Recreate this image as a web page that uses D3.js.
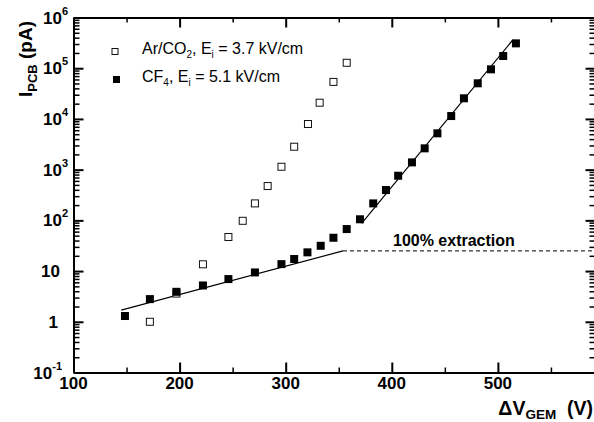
<!DOCTYPE html>
<html>
<head>
<meta charset="utf-8">
<script src="https://cdn.jsdelivr.net/npm/d3@7"></script>
<style>
  body { margin: 0; background: #fff; }
  svg { display: block; font-family: "Liberation Sans", Arial, Helvetica, sans-serif; }
  .axis path, .axis line { stroke: #000; stroke-width: 2; }
  .axis.minor line { stroke-width: 1.5; }
</style>
</head>
<body>
<svg id="chart" width="594" height="422"></svg>
<script>
// Ar/CO2, Ei = 3.7 kV/cm (open squares)
var arV = [172, 197, 222, 246, 259.5, 271, 283, 296, 308, 321, 332, 345, 357.5];
var arI = [1.0, 3.6, 13.6, 47, 98, 216, 475, 1140, 2830, 7940, 20900, 53700, 128000];

// CF4, Ei = 5.1 kV/cm (filled squares)
var cfV = [148.5, 172, 197, 222, 246, 271, 296, 308, 320.5, 333, 345, 357.5, 370, 382.5,
           394.5, 406, 419, 431, 443, 456, 468, 481, 493.5, 505, 517];
var cfI = [1.3, 2.8, 3.9, 5.2, 6.95, 9.4, 13.7, 17.3, 23.4, 31.5, 45.4, 67.3, 105, 216,
           396, 758, 1390, 2630, 5200, 11400, 25500, 50400, 95000, 174000, 309000];

// fit lines (end points)
var lowFit = [[145, 1.7], [354, 25]];
var highFit = [[371.6, 87], [514, 360000]];
var extraction = [[354, 25], [592, 25]];

var xMajor = [100, 200, 300, 400, 500];
var xMinor = [150, 250, 350, 450, 550];
var yExp = [-1, 0, 1, 2, 3, 4, 5, 6];

var svg = d3.select('#chart');
var plotL = 73.5, plotR = 595.5, plotT = 17.5, plotB = 372.5;

var x = d3.scaleLinear().domain([100, 592]).range([plotL, plotR]);
var y = d3.scaleLog().domain([0.1, 1e6]).range([plotB, plotT]);

var yMajor = yExp.map(function(e) { return Math.pow(10, e); });
var yMinor = [];
for (var e = -1; e < 6; e++) {
  for (var m = 2; m <= 9; m++) yMinor.push(m * Math.pow(10, e));
}

function axisG(gen, tx, ty, cls) {
  var g = svg.append('g').attr('class', 'axis ' + (cls || ''))
    .attr('transform', 'translate(' + tx + ',' + ty + ')')
    .call(gen);
  g.selectAll('text').remove();
  if (cls) g.select('.domain').remove();
  return g;
}

// bottom / top
axisG(d3.axisBottom(x).tickValues(xMajor).tickSizeInner(-10).tickSizeOuter(0), 0, plotB);
axisG(d3.axisBottom(x).tickValues(xMinor).tickSizeInner(-5).tickSizeOuter(0), 0, plotB, 'minor');
axisG(d3.axisTop(x).tickValues(xMajor).tickSizeInner(-10).tickSizeOuter(0), 0, plotT);
axisG(d3.axisTop(x).tickValues(xMinor).tickSizeInner(-5).tickSizeOuter(0), 0, plotT, 'minor');
// left / right
axisG(d3.axisLeft(y).tickValues(yMajor).tickSizeInner(-10).tickSizeOuter(0), plotL, 0);
axisG(d3.axisLeft(y).tickValues(yMinor).tickSizeInner(-6).tickSizeOuter(0), plotL, 0, 'minor');
axisG(d3.axisRight(y).tickValues(yMajor).tickSizeInner(-10).tickSizeOuter(0), plotR, 0);
axisG(d3.axisRight(y).tickValues(yMinor).tickSizeInner(-6).tickSizeOuter(0), plotR, 0, 'minor');

// x tick labels
svg.append('g').selectAll('text').data(xMajor).enter().append('text')
  .attr('x', function(d) { return x(d); })
  .attr('y', 389)
  .attr('text-anchor', 'middle')
  .attr('font-size', 17).attr('font-weight', 'bold')
  .text(function(d) { return d; });

// y tick labels
var yl = svg.append('g').selectAll('text').data(yExp).enter().append('text')
  .attr('x', function(e) { return e === 0 ? 58 : (e === 1 ? 60 : (e === -1 ? 62 : 68)); })
  .attr('y', function(e) { return y(Math.pow(10, e)) + 6; })
  .attr('text-anchor', 'end')
  .attr('font-size', 17).attr('font-weight', 'bold');
yl.each(function(e) {
  var t = d3.select(this);
  if (e === 0) { t.text('1'); return; }
  if (e === 1) { t.text('10'); return; }
  t.append('tspan').text('10');
  t.append('tspan').attr('dy', -9).attr('font-size', 11).text(e);
});

// axis titles
var yt = svg.append('text')
  .attr('transform', 'translate(32,21) rotate(-90)')
  .attr('text-anchor', 'end')
  .attr('font-size', 19).attr('font-weight', 'bold');
yt.append('tspan').text('I');
yt.append('tspan').attr('dy', 5).attr('font-size', 13).text('PCB');
yt.append('tspan').attr('dy', -5).text(' (pA)');

var xt = svg.append('text')
  .attr('x', 593).attr('y', 415)
  .attr('text-anchor', 'end')
  .attr('font-size', 19.5).attr('font-weight', 'bold');
xt.append('tspan').text('\u0394V');
xt.append('tspan').attr('dy', 4).attr('font-size', 13.5).text('GEM');
xt.append('tspan').attr('dy', -4).text('\u00a0\u00a0(V)');

// fits
var line = d3.line().x(function(d) { return x(d[0]); }).y(function(d) { return y(d[1]); });
svg.append('path').datum(lowFit).attr('d', line)
  .attr('fill', 'none').attr('stroke', '#000').attr('stroke-width', 1.2);
svg.append('path').datum(highFit).attr('d', line)
  .attr('fill', 'none').attr('stroke', '#000').attr('stroke-width', 1.2);
svg.append('path').datum(extraction).attr('d', line)
  .attr('fill', 'none').attr('stroke', '#000').attr('stroke-width', 1)
  .attr('stroke-dasharray', '4,3');

svg.append('text')
  .attr('x', 393).attr('y', 246)
  .attr('font-size', 16).attr('font-weight', 'bold')
  .text('100% extraction');

// markers
var openS = 7, fillS = 8;
svg.append('g').selectAll('rect').data(arV).enter().append('rect')
  .attr('x', function(d) { return x(d) - openS / 2; })
  .attr('y', function(d, i) { return y(arI[i]) - openS / 2; })
  .attr('width', openS).attr('height', openS)
  .attr('fill', '#fff').attr('stroke', '#111').attr('stroke-width', 1);

svg.append('g').selectAll('rect').data(cfV).enter().append('rect')
  .attr('x', function(d) { return x(d) - fillS / 2; })
  .attr('y', function(d, i) { return y(cfI[i]) - fillS / 2; })
  .attr('width', fillS).attr('height', fillS)
  .attr('fill', '#000');

// legend
var leg = svg.append('g').attr('font-size', 16);
leg.append('rect').attr('x', 112).attr('y', 48.5).attr('width', 6).attr('height', 6)
  .attr('fill', '#fff').attr('stroke', '#111').attr('stroke-width', 1);
leg.append('rect').attr('x', 113).attr('y', 76).attr('width', 7).attr('height', 7)
  .attr('fill', '#000');
var l1 = leg.append('text').attr('x', 142).attr('y', 53.5);
l1.append('tspan').text('Ar/CO');
l1.append('tspan').attr('dy', 4).attr('font-size', 10).text('2');
l1.append('tspan').attr('dy', -4).text(', E');
l1.append('tspan').attr('dy', 4).attr('font-size', 10).text('i');
l1.append('tspan').attr('dy', -4).text(' = 3.7 kV/cm');
var l2 = leg.append('text').attr('x', 142).attr('y', 81.5);
l2.append('tspan').text('CF');
l2.append('tspan').attr('dy', 4).attr('font-size', 10).text('4');
l2.append('tspan').attr('dy', -4).text(', E');
l2.append('tspan').attr('dy', 4).attr('font-size', 10).text('i');
l2.append('tspan').attr('dy', -4).text(' = 5.1 kV/cm');
</script>
</body>
</html>
